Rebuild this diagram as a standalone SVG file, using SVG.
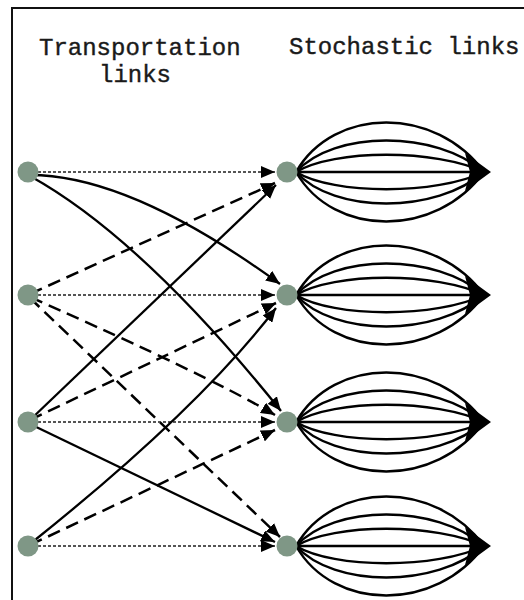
<svg xmlns="http://www.w3.org/2000/svg" xmlns:xlink="http://www.w3.org/1999/xlink" width="524" height="600" viewBox="0 0 524 600">
  <style>
    .title { font-family: "Liberation Mono", "DejaVu Sans Mono", monospace; font-size: 24px; fill: #1a1a1a; stroke: #1a1a1a; stroke-width: 0.4; }
    .node { fill: #7f9786; }
    .dotted { fill: none; stroke: #555; stroke-width: 2; stroke-dasharray: 3 2; marker-end: url(#ah); }
    .solid { fill: none; stroke: #000; stroke-width: 2.3; marker-end: url(#ah); }
    .dashed { fill: none; stroke: #000; stroke-width: 2.5; stroke-dasharray: 13 7; marker-end: url(#ah); }
    .fan { fill: none; stroke: #000; stroke-width: 2.4; }
  </style>
  <defs>
    <marker id="ah" viewBox="0 0 14 12" markerWidth="14" markerHeight="12" markerUnits="userSpaceOnUse" refX="14" refY="6" orient="auto">
      <path d="M0,0 L14,6 L0,12 Z" fill="#000"/>
    </marker>
    <!-- bundle of seven stochastic links, drawn around y = 0 -->
    <g id="bundle">
      <path class="fan" d="M296,0 C334,-66 436,-66 484,0"/>
      <path class="fan" d="M296,0 C334,-42 436,-42 484,0"/>
      <path class="fan" d="M296,0 C334,-23 436,-23 484,0"/>
      <path class="fan" d="M296,0 H484"/>
      <path class="fan" d="M296,0 C334,23 436,23 484,0"/>
      <path class="fan" d="M296,0 C334,42 436,42 484,0"/>
      <path class="fan" d="M296,0 C334,66 436,66 484,0"/>
      <path d="M491,0 L465,-19 L470,0 L465,19 Z" fill="#000"/>
    </g>
  </defs>

  <rect width="524" height="600" fill="#fff"/>
  <path d="M12,600 V8 H524" fill="none" stroke="#111" stroke-width="2"/>

  <g id="titles">
    <text class="title" x="39" y="55">Transportation</text>
    <text class="title" x="99" y="82">links</text>
    <text class="title" x="289" y="54">Stochastic links</text>
  </g>

  <g id="connectors">
    <!-- dotted direct links -->
    <path class="dotted" d="M38,172 H275"/>
    <path class="dotted" d="M38,295 H275"/>
    <path class="dotted" d="M38,422 H275"/>
    <path class="dotted" d="M38,546 H275"/>
    <!-- solid transportation links -->
    <path class="solid" d="M30,175 Q130,175 280,284"/>
    <path class="solid" d="M30,176 Q142,238 281,411"/>
    <path class="solid" d="M30,420 L276,185"/>
    <path class="solid" d="M30,424 L275,542"/>
    <path class="solid" d="M30,544 Q198,410 276,308"/>
    <!-- dashed transportation links -->
    <path class="dashed" d="M30,294 L275,183"/>
    <path class="dashed" d="M30,297 Q211,377 275,415"/>
    <path class="dashed" d="M30,298 L280,537"/>
    <path class="dashed" d="M30,420 L276,303"/>
    <path class="dashed" d="M30,545 L275,430"/>
    <!-- stochastic link bundles -->
    <use xlink:href="#bundle" transform="translate(0,172)"/>
    <use xlink:href="#bundle" transform="translate(0,295)"/>
    <use xlink:href="#bundle" transform="translate(0,422)"/>
    <use xlink:href="#bundle" transform="translate(0,546)"/>
  </g>

  <g id="L1"><circle class="node" cx="28" cy="172" r="10.5"/></g>
  <g id="L2"><circle class="node" cx="28" cy="295" r="10.5"/></g>
  <g id="L3"><circle class="node" cx="28" cy="422" r="10.5"/></g>
  <g id="L4"><circle class="node" cx="28" cy="546" r="10.5"/></g>
  <g id="R1"><circle class="node" cx="287" cy="172" r="10.5"/></g>
  <g id="R2"><circle class="node" cx="287" cy="295" r="10.5"/></g>
  <g id="R3"><circle class="node" cx="287" cy="422" r="10.5"/></g>
  <g id="R4"><circle class="node" cx="287" cy="546" r="10.5"/></g>
</svg>
